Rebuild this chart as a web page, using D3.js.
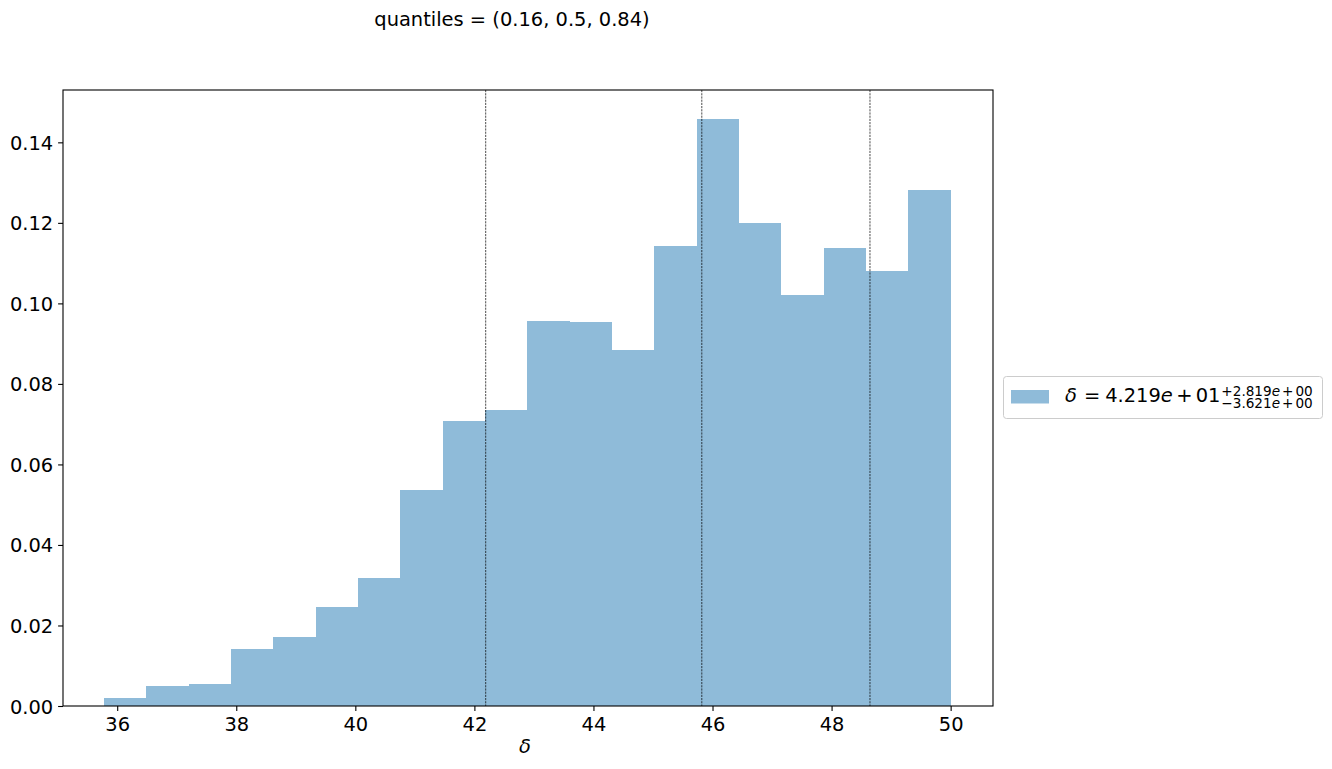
<!DOCTYPE html>
<html lang="en">
<head>
  <meta charset="UTF-8">
  <title>quantiles histogram</title>
  <style>
    body { margin: 0; background: #fff; }
    svg { font-family: "DejaVu Sans", sans-serif; }
  </style>
</head>
<body>
  <svg id="chart"></svg>
  <script src="https://cdn.jsdelivr.net/npm/d3@7"></script>
  <script>
    // histogram bin edges (delta) and densities
    var binEdges = [35.776, 36.487, 37.198, 37.910, 38.621, 39.332, 40.043, 40.754, 41.466, 42.177,
                    42.888, 43.599, 44.310, 45.022, 45.733, 46.444, 47.155, 47.866, 48.578, 49.289, 50.000];
    var density = [0.0020, 0.0050, 0.0055, 0.0142, 0.0171, 0.0246, 0.0318, 0.0537, 0.0708, 0.0735,
                   0.0956, 0.0954, 0.0884, 0.1143, 0.1458, 0.1200, 0.1021, 0.1138, 0.1080, 0.1282];
    var quantileLines = [42.19, 45.82, 48.645];
    var xTicks = [36, 38, 40, 42, 44, 46, 48, 50];
    var yTicks = [0, 0.02, 0.04, 0.06, 0.08, 0.10, 0.12, 0.14];

    var W = 1332, H = 769;
    var mLeft = 63, mRight = 993, mTop = 90, mBottom = 706;
    var fs = 19.44;

    var svg = d3.select('#chart').attr('width', W).attr('height', H);

    var x = d3.scaleLinear().domain([35.0895, 50.7115]).range([mLeft, mRight]);
    var y = d3.scaleLinear().domain([0, 0.1530]).range([mBottom, mTop]);

    var bins = density.map(function (d, i) {
      return { x0: binEdges[i], x1: binEdges[i + 1], v: d };
    });

    svg.append('g').selectAll('rect')
      .data(bins)
      .enter()
      .append('rect')
      .attr('x', function (d) { return x(d.x0); })
      .attr('width', function (d) { return x(d.x1) - x(d.x0); })
      .attr('y', function (d) { return y(d.v); })
      .attr('height', function (d) { return mBottom - y(d.v); })
      .attr('fill', '#1f77b4')
      .attr('fill-opacity', 0.5)
      .attr('shape-rendering', 'crispEdges');

    svg.append('g').selectAll('line')
      .data(quantileLines)
      .enter()
      .append('line')
      .attr('x1', function (d) { return x(d); })
      .attr('x2', function (d) { return x(d); })
      .attr('y1', mTop)
      .attr('y2', mBottom)
      .attr('stroke', '#000')
      .attr('stroke-width', 0.7)
      .attr('stroke-dasharray', '2.2,1');

    // axes
    var xAxis = d3.axisBottom(x).tickValues(xTicks).tickSize(4.9).tickPadding(4.9).tickFormat(d3.format('d'));
    var yAxis = d3.axisLeft(y).tickValues(yTicks).tickSize(4.9).tickPadding(4.9).tickFormat(d3.format('.2f'));

    var gx = svg.append('g').attr('transform', 'translate(0,' + mBottom + ')').call(xAxis);
    var gy = svg.append('g').attr('transform', 'translate(' + mLeft + ',0)').call(yAxis);
    [gx, gy].forEach(function (g) {
      g.select('.domain').remove();
      g.selectAll('line').attr('stroke', '#000').attr('stroke-width', 1.1);
      g.selectAll('text').attr('font-size', fs).attr('font-family', '"DejaVu Sans"').attr('fill', '#000');
    });
    gx.selectAll('text').attr('dy', null).attr('y', 25);
    gy.selectAll('text').attr('dy', '0.36em');

    svg.append('rect')
      .attr('x', mLeft).attr('y', mTop)
      .attr('width', mRight - mLeft).attr('height', mBottom - mTop)
      .attr('fill', 'none').attr('stroke', '#000').attr('stroke-width', 1.1);

    // labels
    svg.append('text')
      .attr('x', (mLeft + mRight) / 2 - 3).attr('y', 753)
      .attr('text-anchor', 'middle').attr('font-size', fs).attr('font-style', 'italic')
      .text('δ');

    svg.append('text')
      .attr('x', 512).attr('y', 26)
      .attr('text-anchor', 'middle').attr('font-size', fs)
      .text('quantiles = (0.16, 0.5, 0.84)');

    // legend
    var lg = svg.append('g');
    lg.append('rect')
      .attr('x', 1003.5).attr('y', 376.5).attr('width', 319).attr('height', 42)
      .attr('rx', 3).attr('fill', '#fff').attr('fill-opacity', 0.8)
      .attr('stroke', '#cccccc');
    lg.append('rect')
      .attr('x', 1011).attr('y', 390).attr('width', 38).attr('height', 13.5)
      .attr('fill', '#1f77b4').attr('fill-opacity', 0.5);

    var main = lg.append('text').attr('x', 1065).attr('y', 402).attr('font-size', fs);
    main.append('tspan').attr('font-style', 'italic').text('δ');
    main.append('tspan').attr('dx', 7).text('=');
    main.append('tspan').attr('dx', 5).text('4.219');
    main.append('tspan').attr('font-style', 'italic').text('e');
    main.append('tspan').attr('dx', 3.5).text('+');
    main.append('tspan').attr('dx', 3).text('01');
    var mbox = main.node().getBBox();
    var sx = mbox.x + mbox.width + 1;
    var ss = 13.6;

    function script(yy, sign, num) {
      var t = lg.append('text').attr('x', sx).attr('y', yy).attr('font-size', ss);
      t.append('tspan').text(sign + num);
      t.append('tspan').attr('font-style', 'italic').text('e');
      t.append('tspan').attr('dx', 2).text('+');
      t.append('tspan').attr('dx', 2).text('00');
    }
    script(395.5, '+', '2.819');
    script(408, '\u2212', '3.621');
  </script>
</body>
</html>
